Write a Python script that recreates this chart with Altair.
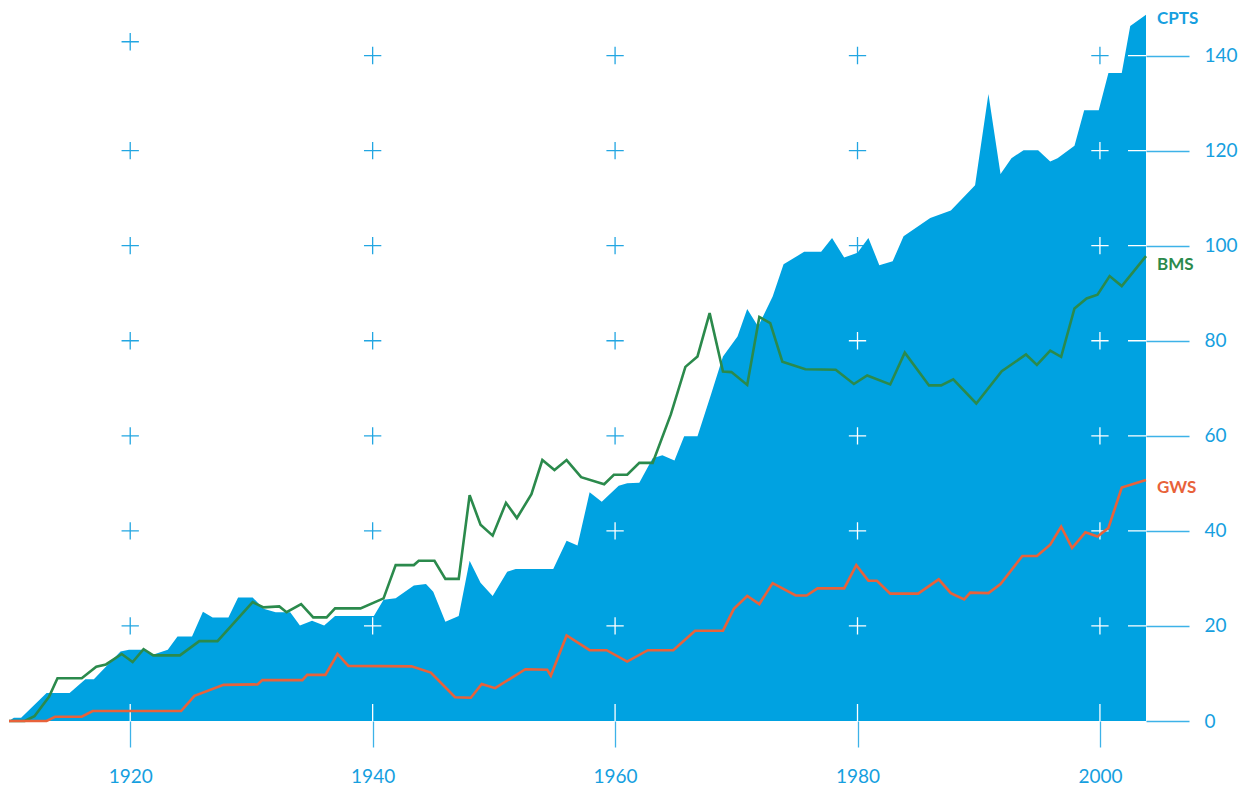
import altair as alt
import pandas as pd
import numpy as np

# ---- data: (year, value) vertices ----
cpts = [(1910.0, 0), (1910.4, 0.7), (1911.0, 0.7), (1913.1, 5.9), (1915.0, 5.9), (1916.3, 8.8),
        (1917.0, 8.8), (1919.2, 14.6), (1919.9, 15.0), (1921.1, 15.0), (1921.8, 13.9), (1923.1, 15.0),
        (1923.9, 17.8), (1925.1, 17.8), (1926.0, 23.0), (1926.8, 21.8), (1928.1, 21.8), (1928.9, 26.0),
        (1930.1, 26.0), (1931.0, 23.6), (1932.0, 22.9), (1933.2, 22.9), (1934.0, 20.1), (1935.0, 21.1),
        (1936.0, 20.1), (1936.9, 22.1), (1940.1, 22.1), (1940.9, 25.5), (1941.9, 25.8), (1943.4, 28.5),
        (1944.4, 28.8), (1945.0, 27.2), (1946.0, 20.9), (1947.1, 22.1), (1948.0, 33.7), (1948.9, 29.1),
        (1949.9, 26.3), (1951.1, 31.4), (1951.8, 32.0), (1954.9, 32.0), (1956.0, 37.9), (1956.9, 36.9),
        (1957.9, 48.1), (1958.9, 46.1), (1960.3, 49.5), (1961.0, 50.0), (1962.0, 50.1), (1963.1, 55.3),
        (1963.9, 55.9), (1964.9, 54.8), (1965.7, 59.9), (1966.8, 59.9), (1967.9, 68.6), (1968.9, 76.7),
        (1970.1, 80.9), (1970.9, 86.7), (1971.8, 83.0), (1973.0, 89.3), (1973.9, 96.1), (1975.6, 98.7),
        (1977.0, 98.7), (1977.9, 101.6), (1978.9, 97.5), (1980.0, 98.5), (1980.9, 101.6), (1981.8, 95.9),
        (1982.9, 96.7), (1983.8, 102.0), (1986.0, 105.8), (1987.7, 107.4), (1989.7, 112.7), (1990.8, 131.9),
        (1991.8, 115.1), (1992.7, 118.4), (1993.7, 120.1), (1994.9, 120.1), (1995.9, 117.7), (1996.5, 118.4),
        (1997.9, 121.0), (1998.7, 128.5), (1999.9, 128.5), (2000.7, 136.3), (2001.8, 136.3), (2002.5, 146.2),
        (2003.8, 148.6)]

bms = [(1910.0, 0), (1911.3, 0), (1912.1, 1.0), (1913.3, 5.1), (1914.0, 9.0), (1916.0, 9.0),
       (1917.2, 11.4), (1918.0, 11.9), (1919.3, 14.1), (1920.2, 12.4), (1921.1, 15.1), (1921.9, 13.8),
       (1924.1, 13.8), (1925.7, 16.8), (1927.2, 16.8), (1930.1, 25.0), (1931.0, 23.9), (1932.3, 24.1),
       (1932.9, 22.9), (1934.1, 24.6), (1935.1, 21.8), (1936.2, 21.8), (1936.9, 23.7), (1939.0, 23.7),
       (1940.9, 25.8), (1941.9, 32.8), (1943.4, 32.8), (1943.8, 33.7), (1945.1, 33.7), (1946.0, 29.9),
       (1947.1, 29.9), (1948.0, 47.5), (1948.9, 41.3), (1949.9, 39.0), (1951.0, 45.9), (1951.9, 42.7),
       (1953.1, 47.7), (1954.0, 54.9), (1955.0, 52.8), (1956.0, 54.9), (1957.2, 51.3), (1959.1, 49.8),
       (1959.9, 51.8), (1961.0, 51.8), (1962.0, 54.3), (1963.1, 54.3), (1964.6, 64.5), (1965.8, 74.5),
       (1966.8, 76.7), (1967.8, 85.8), (1968.9, 73.5), (1969.6, 73.4), (1970.9, 70.7), (1971.9, 85.0),
       (1972.8, 83.7), (1973.8, 75.6), (1975.7, 74.0), (1978.2, 73.9), (1979.7, 70.9), (1980.8, 72.7),
       (1982.7, 70.8), (1983.9, 77.5), (1985.9, 70.6), (1986.9, 70.6), (1987.9, 71.9), (1989.8, 66.8),
       (1991.9, 73.6), (1993.9, 77.1), (1994.8, 74.9), (1995.9, 77.9), (1996.8, 76.6), (1997.9, 86.8),
       (1998.9, 88.9), (1999.8, 89.7), (2000.8, 93.6), (2001.8, 91.5), (2003.8, 97.8)]

gws = [(1910.0, 0), (1913.1, 0), (1913.8, 0.9), (1916.0, 0.9), (1916.9, 2.1), (1924.2, 2.1),
       (1925.3, 5.3), (1927.7, 7.6), (1930.5, 7.7), (1930.9, 8.6), (1934.2, 8.6), (1934.6, 9.7),
       (1936.1, 9.7), (1937.1, 14.1), (1938.0, 11.6), (1943.2, 11.5), (1944.8, 10.2), (1946.8, 5.0),
       (1948.1, 4.9), (1949.0, 7.8), (1950.1, 6.9), (1952.6, 10.9), (1954.4, 10.8), (1954.7, 9.5),
       (1956.0, 18.0), (1957.9, 14.9), (1959.3, 14.9), (1961.0, 12.5), (1962.7, 14.9), (1964.8, 14.9),
       (1966.6, 19.0), (1968.9, 19.0), (1969.8, 23.6), (1970.9, 26.3), (1971.9, 24.6), (1973.0, 29.0),
       (1974.9, 26.4), (1975.8, 26.4), (1976.7, 27.9), (1978.9, 27.9), (1979.9, 32.8), (1980.9, 29.5),
       (1981.6, 29.5), (1982.7, 26.8), (1985.0, 26.8), (1986.7, 29.8), (1987.7, 26.9), (1988.8, 25.6),
       (1989.3, 27.0), (1990.8, 26.9), (1991.8, 28.8), (1993.6, 34.7), (1994.8, 34.7), (1995.9, 37.1),
       (1996.8, 40.9), (1997.7, 36.4), (1998.8, 39.7), (1999.8, 38.8), (2000.7, 40.6), (2001.8, 49.1),
       (2003.8, 50.7)]

x_ticks = [1920, 1940, 1960, 1980, 2000]
y_ticks = [0, 20, 40, 60, 80, 100, 120, 140]
cross_levels = [20, 40, 60, 80, 100, 120, 140]
cross_top_1920 = 142.9  # the top-left cross sits a little higher in the original

labels = ["CPTS", "BMS", "GWS"]

# ---- styling ----
BLUE = "#00a2e1"
BLUE_TEXT = "#169fdf"
BLUE_TICK = "#3db2e8"
BLUE_CROSS = "#22a6e2"
GREEN = "#2b8a4c"
ORANGE = "#e8623a"
FONT = "Lato"


def frame(pairs):
    return pd.DataFrame({"year": [p[0] for p in pairs], "value": [p[1] for p in pairs]})


cpts_df = frame(cpts)
bms_df = frame(bms)
gws_df = frame(gws)

x_domain = [cpts[0][0], cpts[-1][0]]
xscale = alt.Scale(domain=x_domain, nice=False, zero=False)
yscale = alt.Scale(domain=[0, 150], nice=False, zero=True)

xaxis = alt.Axis(values=x_ticks, format="d", tickSize=26, tickColor=BLUE_TICK, tickWidth=1.3,
                 domain=False, grid=False, labelColor=BLUE_TEXT, labelFontSize=19, labelFont=FONT,
                 labelFontWeight="normal", labelPadding=20, title=None, zindex=1, labelFlush=False)
yaxis = alt.Axis(orient="right", values=y_ticks, tickSize=43, tickColor=BLUE_TICK, tickWidth=1.3,
                 domain=False, grid=False, labelColor=BLUE_TEXT, labelFontSize=19, labelFont=FONT,
                 labelFontWeight="normal", labelPadding=15, labelAlign="left", labelBaseline="middle",
                 title=None, zindex=1)

X = lambda: alt.X("year:Q", scale=xscale, axis=xaxis)
Y = lambda: alt.Y("value:Q", scale=yscale, axis=yaxis)

# crosses: blue below the area, white on top where the area covers them
cx, cy = [], []
for xv in x_ticks:
    for lv in cross_levels:
        cx.append(xv)
        cy.append(cross_top_1920 if (xv == 1920 and lv == 140) else lv)
cross_df = pd.DataFrame({"year": cx, "value": cy})
cover = np.interp(cross_df["year"], cpts_df["year"], cpts_df["value"])
cross_in = cross_df[cover > cross_df["value"] + 1.5]

CROSS = "M-1,0H1M0,-1V1"
crosses_blue = alt.Chart(cross_df).mark_point(shape=CROSS, size=300, filled=False, strokeWidth=1.3,
                                              color=BLUE_CROSS, opacity=1).encode(x=X(), y=Y())
area = alt.Chart(cpts_df).mark_area(color=BLUE, opacity=1).encode(x=X(), y=Y())
crosses_white = alt.Chart(cross_in).mark_point(shape=CROSS, size=300, filled=False, strokeWidth=1.3,
                                               color="white", opacity=1).encode(x=X(), y=Y())

xt_df = pd.DataFrame({"year": x_ticks, "value": [0] * len(x_ticks)})
x_white = alt.Chart(xt_df).mark_tick(orient="vertical", size=34, thickness=1.3, color="white",
                                     opacity=1).encode(x=X(), y=Y())
yt_df = pd.DataFrame({"year": [x_domain[1]] * (len(y_ticks) - 1), "value": y_ticks[1:]})
y_white = alt.Chart(yt_df).mark_tick(orient="horizontal", size=36, thickness=1.3, color="white",
                                     opacity=1).encode(x=X(), y=Y())

bms_line = alt.Chart(bms_df).mark_line(color=GREEN, strokeWidth=2.6).encode(x=X(), y=Y())
gws_line = alt.Chart(gws_df).mark_line(color=ORANGE, strokeWidth=2.6).encode(x=X(), y=Y())


def end_label(df, text, color, dy):
    d = pd.DataFrame({"year": [df["year"].iloc[-1]], "value": [df["value"].iloc[-1]], "label": [text]})
    return alt.Chart(d).mark_text(align="left", baseline="middle", dx=11, dy=dy, fontSize=17,
                                  fontWeight="bold", font=FONT, color=color).encode(
        x=X(), y=Y(), text="label:N")


lab_c = end_label(cpts_df, labels[0], BLUE_TEXT, 4)
lab_b = end_label(bms_df, labels[1], GREEN, 9)
lab_g = end_label(gws_df, labels[2], ORANGE, 8)

chart = alt.layer(crosses_blue, area, crosses_white, x_white, y_white, bms_line, gws_line,
                  lab_c, lab_b, lab_g).properties(
    width=1137, height=713,
    autosize=alt.AutoSizeParams(type="none"),
    padding={"left": 1, "top": 0, "right": 92, "bottom": 66},
    background="white",
).configure_view(stroke=None)

chart.save("out.html", embed_options={"renderer": "svg", "actions": False})
